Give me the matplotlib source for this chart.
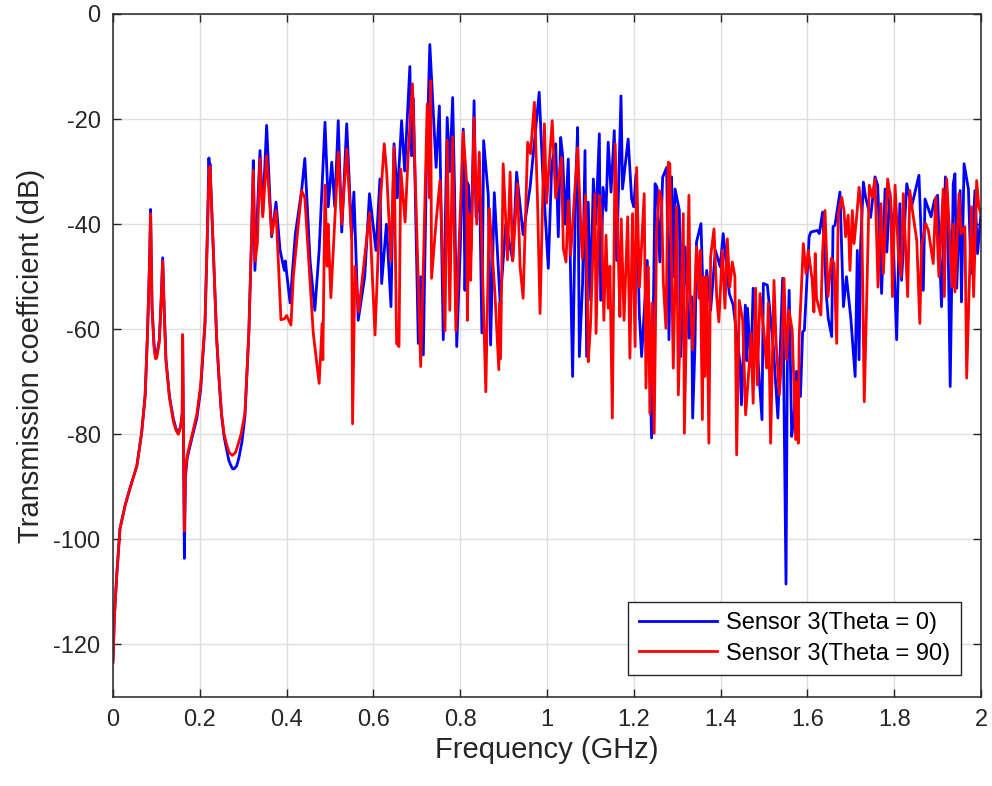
import matplotlib
matplotlib.use("Agg")
import matplotlib.pyplot as plt
import numpy as np

plt.rcParams['font.family'] = ['Liberation Sans', 'DejaVu Sans']
plt.rcParams['axes.unicode_minus'] = False

# ---- data: (frequency GHz, transmission dB) ----
theta0_points = [
    (0.000,-123),(0.003,-115),(0.0085,-107),(0.016,-98),(0.028,-93.5),(0.039,-90.3),(0.055,-86),
    (0.066,-79.7),(0.074,-72.7),(0.079,-62),(0.084,-48),(0.0866,-37.2),(0.090,-55.8),(0.0945,-62.8),
    (0.098,-65.2),(0.1006,-65),(0.1067,-62),(0.1106,-55),(0.1145,-46.4),(0.1175,-55),(0.122,-65.7),
    (0.130,-72.7),(0.139,-77),(0.145,-78.9),(0.1505,-79.7),(0.156,-78.4),(0.1595,-76),(0.1605,-62),
    (0.1645,-103.6),(0.167,-88),(0.171,-84.5),(0.181,-81),(0.193,-77),(0.202,-71.5),(0.212,-59),
    (0.217,-43.2),(0.221,-27.4),(0.2225,-31),(0.2235,-28.5),(0.231,-44.6),(0.239,-62),(0.245,-70.5),
    (0.250,-76.3),(0.256,-80.5),(0.262,-83),(0.267,-85),(0.272,-86),(0.276,-86.6),(0.280,-86.5),
    (0.285,-86),(0.290,-84.5),(0.297,-81.5),(0.304,-76.6),(0.313,-60.7),(0.3195,-41.8),(0.3233,-27.9),
    (0.327,-48.8),(0.3387,-26),(0.345,-38),(0.354,-21.2),(0.3656,-42.4),(0.3756,-35.8),(0.385,-45),
    (0.3948,-48.8),(0.397,-47),(0.408,-55),(0.420,-42),(0.4346,-33.6),(0.442,-27.5),(0.454,-46.9),
    (0.465,-56.4),(0.475,-45),(0.4885,-20.6),(0.496,-36.7),(0.504,-28.2),(0.511,-36.7),(0.519,-20.3),
    (0.527,-41.5),(0.5385,-20.9),(0.550,-42.4),(0.555,-33.9),(0.565,-58.3),(0.580,-50),(0.591,-34.2),
    (0.606,-45),(0.615,-31.4),(0.619,-51.3),(0.630,-40),(0.6405,-55.7),(0.6475,-24.7),(0.655,-35),
    (0.665,-20.3),(0.672,-29.9),(0.684,-10),(0.688,-27),(0.692,-16),(0.7035,-62.7),(0.709,-50),
    (0.715,-64.9),(0.722,-30),(0.730,-5.8),(0.7445,-29.2),(0.752,-17.5),(0.761,-62),(0.770,-19.7),
    (0.776,-30),(0.7826,-15.9),(0.787,-33.5),(0.792,-63.3),(0.800,-45),(0.807,-21.9),(0.811,-52.6),
    (0.8145,-31.7),(0.8195,-32.7),(0.825,-45),(0.832,-16.5),(0.8364,-38.6),(0.845,-35),(0.850,-60.7),
    (0.854,-24.1),(0.8648,-34.6),(0.870,-63),(0.8786,-34),(0.892,-55),(0.905,-40),(0.921,-46.9),
    (0.930,-30.1),(0.945,-42),(0.961,-33),(0.982,-14.9),(0.990,-30),(1.003,-48.4),(1.011,-28.5),
    (1.020,-24.7),(1.026,-42.4),(1.0315,-23.5),(1.036,-26.9),(1.042,-40),(1.049,-27.6),(1.059,-69),
    (1.066,-33),(1.0706,-21.6),(1.0745,-65.2),(1.082,-51.3),(1.0876,-26),(1.0914,-65.2),(1.095,-35.8),
    (1.1006,-54.5),(1.1068,-31.4),(1.1125,-40),(1.1206,-22.8),(1.1237,-54.5),(1.129,-33),(1.136,-37.4),
    (1.141,-24.4),(1.1475,-33.9),(1.155,-22.2),(1.1605,-46.9),(1.1705,-15.6),(1.174,-33.3),(1.187,-23.8),
    (1.195,-35.2),(1.200,-36.7),(1.205,-30.5),(1.2127,-57),(1.218,-65.2),(1.231,-46.9),(1.241,-80.7),
    (1.249,-32.3),(1.2535,-33),(1.260,-47.2),(1.2665,-31.1),(1.2757,-29.2),(1.281,-62),(1.287,-31),
    (1.291,-50),(1.295,-33.3),(1.305,-37.4),(1.308,-65.2),(1.318,-44.3),(1.327,-61.7),(1.333,-53.8),
    (1.3356,-76.9),(1.341,-63),(1.3445,-43.4),(1.3548,-39.9),(1.361,-57.6),(1.368,-48.8),(1.377,-56.4),
    (1.388,-45),(1.399,-48.1),(1.406,-41.8),(1.420,-53.2),(1.429,-55.4),(1.4447,-66.5),(1.448,-74.4),
    (1.457,-55.4),(1.460,-66),(1.462,-56),(1.470,-67.1),(1.475,-52.2),(1.4954,-77.2),(1.4985,-51.3),
    (1.5077,-51.6),(1.5215,-63.3),(1.532,-76.9),(1.543,-50.3),(1.5507,-108.5),(1.5537,-66.5),
    (1.558,-52.6),(1.5638,-80.4),(1.569,-76.6),(1.575,-68),(1.584,-72.8),(1.589,-60.5),(1.593,-60.2),
    (1.604,-42.4),(1.608,-41.5),(1.623,-41.2),(1.6275,-41.8),(1.635,-37.7),(1.644,-53.8),(1.648,-57.9),
    (1.656,-61.4),(1.659,-40.5),(1.6635,-40.2),(1.675,-33.9),(1.683,-55.7),(1.690,-50),(1.700,-57.9),
    (1.710,-69),(1.715,-45),(1.719,-65.8),(1.7225,-44.3),(1.729,-32),(1.734,-34.9),(1.7457,-38.7),
    (1.7558,-31),(1.762,-32.6),(1.767,-44.3),(1.771,-53.2),(1.779,-33.3),(1.783,-45.3),(1.790,-33.9),
    (1.798,-43.7),(1.8057,-62),(1.813,-36.1),(1.817,-50.7),(1.829,-32.3),(1.840,-36.7),(1.848,-33.9),
    (1.857,-30.7),(1.867,-52.6),(1.871,-35.2),(1.885,-38.6),(1.8925,-35.5),(1.900,-34.5),(1.909,-55.7),
    (1.918,-31),(1.923,-36.7),(1.929,-70.9),(1.936,-32.3),(1.940,-30.4),(1.944,-52.2),(1.952,-33.6),
    (1.955,-54.8),(1.961,-28.5),(1.971,-33.3),(1.977,-49.4),(1.986,-33.6),(1.992,-45.6),(2.000,-38),
]

theta90_points = [
    (0.000,-123.5),(0.003,-115),(0.0085,-107),(0.016,-98),(0.028,-93.5),(0.039,-90.3),(0.055,-86),
    (0.066,-79.7),(0.074,-72.7),(0.079,-62),(0.084,-48),(0.0866,-38),(0.090,-56),(0.0945,-63.5),
    (0.098,-65.6),(0.1006,-65.5),(0.1067,-62.5),(0.1106,-55.5),(0.1145,-47),(0.1175,-55.5),(0.122,-66),
    (0.130,-73),(0.139,-77.5),(0.145,-79.2),(0.1505,-80),(0.156,-78.6),(0.1595,-76),(0.1605,-61),
    (0.1645,-98.4),(0.167,-87),(0.171,-84),(0.181,-80.5),(0.193,-76.3),(0.202,-70.6),(0.212,-58.6),
    (0.217,-43.5),(0.2215,-29.5),(0.2235,-29),(0.231,-44.6),(0.239,-62),(0.245,-70),(0.250,-76),
    (0.256,-80),(0.262,-82),(0.268,-83.5),(0.275,-84),(0.282,-83.5),(0.288,-82),(0.295,-80),(0.304,-76),
    (0.313,-60.7),(0.3195,-42),(0.3233,-29.8),(0.3275,-47),(0.3326,-43.7),(0.3387,-27.6),(0.345,-38.6),
    (0.354,-27),(0.3656,-42),(0.3756,-37.4),(0.387,-58.2),(0.395,-58),(0.400,-57.4),(0.410,-59.2),
    (0.4155,-50),(0.4346,-33.6),(0.442,-35),(0.4615,-60.8),(0.475,-70.3),(0.482,-58.9),(0.4835,-65.8),
    (0.4885,-32.6),(0.4935,-48),(0.4955,-40),(0.502,-54),(0.519,-26.3),(0.527,-40),(0.5385,-25.7),
    (0.550,-43),(0.552,-78),(0.5576,-48),(0.566,-56.7),(0.591,-37.9),(0.6037,-61.1),(0.615,-37),
    (0.625,-24.7),(0.6305,-30),(0.6405,-47),(0.6475,-25.3),(0.6535,-62.7),(0.659,-63.3),(0.663,-29.5),
    (0.673,-39.6),(0.680,-27),(0.690,-13.3),(0.696,-30),(0.709,-67.1),(0.716,-45),(0.724,-17.1),
    (0.729,-35),(0.732,-12.7),(0.734,-50.3),(0.744,-40),(0.7535,-31.7),(0.765,-60.3),(0.770,-24),
    (0.773,-40),(0.776,-56.4),(0.7826,-23.4),(0.790,-60.3),(0.807,-22.5),(0.8145,-31.7),(0.8165,-58.3),
    (0.820,-38),(0.824,-50.7),(0.832,-19.7),(0.838,-40),(0.844,-26.3),(0.859,-71.9),(0.867,-37),
    (0.880,-53.2),(0.889,-67.7),(0.891,-55),(0.893,-65.6),(0.899,-28.5),(0.909,-46.8),(0.915,-30.1),
    (0.921,-47),(0.932,-32.3),(0.938,-48.1),(0.945,-54.1),(0.9555,-24.4),(0.962,-26.6),(0.971,-16.8),
    (0.978,-35),(0.984,-57),(0.994,-20.9),(0.999,-36),(1.012,-20.3),(1.020,-35),(1.0335,-27.3),
    (1.0376,-44.6),(1.0438,-47.2),(1.049,-35.5),(1.0545,-45.9),(1.066,-31.1),(1.0706,-25.4),(1.081,-46.5),
    (1.089,-34.5),(1.095,-66.2),(1.100,-59.5),(1.1106,-34.2),(1.113,-60.8),(1.1206,-34.5),(1.126,-39.9),
    (1.131,-58.3),(1.136,-42.1),(1.141,-56),(1.145,-48),(1.1505,-76.9),(1.157,-24.7),(1.164,-45),
    (1.168,-57.6),(1.171,-39),(1.1775,-58.3),(1.186,-38.6),(1.191,-65.5),(1.197,-38),(1.203,-63.3),
    (1.2065,-29.2),(1.213,-52),(1.224,-34.2),(1.228,-71.2),(1.2335,-48.1),(1.237,-76),(1.242,-55),
    (1.247,-79.8),(1.2526,-41.2),(1.2588,-33.6),(1.264,-35.5),(1.268,-51),(1.274,-59.8),(1.2795,-28.2),
    (1.283,-28.5),(1.291,-67.4),(1.2985,-36.7),(1.3026,-72.5),(1.314,-38),(1.3165,-79.8),(1.327,-34.5),
    (1.3295,-53.2),(1.3356,-63.9),(1.3445,-44.3),(1.350,-54.1),(1.353,-45),(1.358,-77.2),(1.361,-50),
    (1.364,-69),(1.368,-50),(1.373,-81.7),(1.377,-46.2),(1.3848,-40.9),(1.391,-53.8),(1.396,-58.6),
    (1.404,-45),(1.410,-56),(1.4155,-42.8),(1.421,-52),(1.427,-47.2),(1.433,-50),(1.437,-83.9),
    (1.443,-54.5),(1.451,-58.3),(1.4576,-76.3),(1.4654,-67.4),(1.470,-60.8),(1.475,-74.1),(1.4806,-52.2),
    (1.4846,-70.6),(1.4908,-53.2),(1.500,-60.8),(1.506,-67.4),(1.510,-55),(1.5153,-81.7),(1.523,-50.7),
    (1.5276,-62),(1.5353,-72.5),(1.5407,-65.5),(1.546,-50.3),(1.552,-65.8),(1.5576,-56.4),(1.565,-60.2),
    (1.569,-70.6),(1.573,-81),(1.576,-70),(1.579,-81.7),(1.581,-61.4),(1.5868,-51),(1.5906,-43.7),
    (1.5968,-49.4),(1.602,-45),(1.611,-50.7),(1.615,-56.7),(1.618,-45.6),(1.621,-54.1),(1.631,-57.3),
    (1.635,-45.3),(1.6406,-37.4),(1.6475,-53.8),(1.655,-46.5),(1.6615,-47.5),(1.6675,-62.7),(1.671,-38),
    (1.679,-34.9),(1.6843,-37.4),(1.688,-42.4),(1.694,-38.3),(1.698,-48.8),(1.7035,-37.4),(1.7074,-43.7),
    (1.7135,-38.6),(1.719,-33),(1.725,-37.4),(1.731,-73.8),(1.7365,-54.8),(1.7426,-32.6),(1.750,-34.9),
    (1.7558,-31.4),(1.7627,-52),(1.7696,-36.1),(1.775,-49.4),(1.780,-39.9),(1.785,-31.4),(1.792,-35.5),
    (1.796,-53.8),(1.802,-32.6),(1.8095,-45.3),(1.8157,-50),(1.821,-34.2),(1.831,-53.8),(1.836,-33.6),
    (1.842,-37.4),(1.852,-43.1),(1.859,-58.9),(1.863,-44.3),(1.8725,-39.9),(1.8787,-41.2),(1.890,-47.5),
    (1.8956,-34.9),(1.903,-50),(1.913,-33.3),(1.9155,-53.8),(1.921,-31.4),(1.934,-52),(1.937,-40),
    (1.940,-52.9),(1.9493,-34.2),(1.954,-41.8),(1.963,-40.5),(1.967,-69.3),(1.978,-36.7),(1.983,-53.8),
    (1.990,-31.7),(1.995,-36.7),(2.000,-38),
]

freq_theta0 = np.array([p[0] for p in theta0_points])
db_theta0 = np.array([p[1] for p in theta0_points])
freq_theta90 = np.array([p[0] for p in theta90_points])
db_theta90 = np.array([p[1] for p in theta90_points])

series_labels = ["Sensor 3(Theta = 0)", "Sensor 3(Theta = 90)"]
x_ticks = [0, 0.2, 0.4, 0.6, 0.8, 1.0, 1.2, 1.4, 1.6, 1.8, 2.0]
x_ticklabels = ["0", "0.2", "0.4", "0.6", "0.8", "1", "1.2", "1.4", "1.6", "1.8", "2"]
y_ticks = [-120, -100, -80, -60, -40, -20, 0]

# ---- figure ----
fig = plt.figure(figsize=(9.92, 7.86), dpi=100)
ax = fig.add_axes([113/992, 1-697/786, (981-113)/992, (697-14)/786])

axc = (0.15, 0.15, 0.15)
ax.plot(freq_theta0, db_theta0, color=(0, 0, 1), lw=2.0, label=series_labels[0])
ax.plot(freq_theta90, db_theta90, color=(1, 0, 0), lw=2.0, label=series_labels[1])

ax.set_xlim(0, 2)
ax.set_ylim(-130, 0)
ax.set_xticks(x_ticks)
ax.set_xticklabels(x_ticklabels)
ax.set_yticks(y_ticks)
ax.grid(True, color=(0.87, 0.87, 0.87), lw=1.0)
ax.set_axisbelow(True)
ax.tick_params(direction='in', length=6, width=1.0, top=True, right=True,
               labelsize=17, colors=axc, pad=9)
for s in ax.spines.values():
    s.set_color(axc)
    s.set_linewidth(1.1)

ax.set_xlabel("Frequency (GHz)", fontsize=21, color=axc, labelpad=3)
ax.set_ylabel("Transmission coefficient (dB)", fontsize=21, color=axc, labelpad=6)

leg = ax.legend(loc='lower right', bbox_to_anchor=(0.977, 0.032), borderaxespad=0,
                fontsize=17, fancybox=False, framealpha=1, edgecolor=axc,
                handlelength=3.3, handletextpad=0.4, labelspacing=0.35, borderpad=0.45)
leg.get_frame().set_linewidth(1.0)

fig.savefig("out.png", dpi=100)
